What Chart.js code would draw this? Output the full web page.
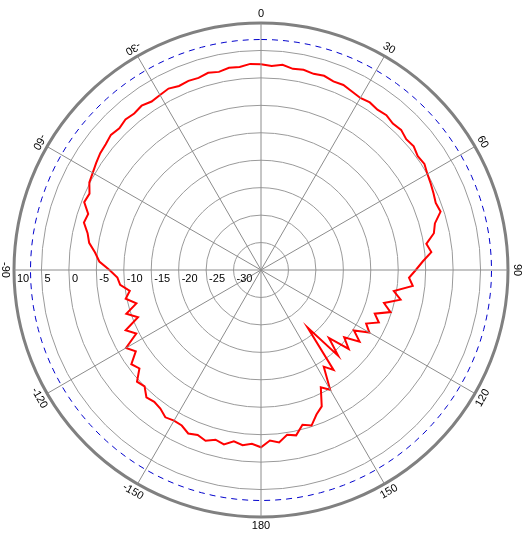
<!DOCTYPE html>
<html>
<head>
<meta charset="utf-8">
<script src="https://cdn.jsdelivr.net/npm/chart.js@4"></script>
<style>
  html, body { margin: 0; padding: 0; background: #fff; }
  #wrap { width: 526px; height: 534px; }
</style>
</head>
<body>
<div id="wrap"><canvas id="c"></canvas></div>
<script>
// gain in dB, every 3 degrees, clockwise from 0 at top
const gain = [
  2.5, 2.2, 2.6, 2.1, 2.3, 2.0, 2.2, 1.8, 1.9, 1.5,
  1.2, 1.4, 1.1, 1.3, 0.9, 1.1, 0.6, 0.8, 0.3, 0.5,
  0.0, -0.3, -0.6, -0.9, -0.6, -2.2, -2.8, -4.5, -3.8, -5.5,
  -6.8, -8.0, -7.2, -10.5, -9.0, -11.8, -10.2, -12.8, -11.5, -13.5,
  -12.2, -14.8, -12.8, -15.5, -13.5, -17.5, -14.0, -21.5, -12.5, -14.0,
  -9.8, -11.0, -7.8, -6.8, -5.2, -5.8, -4.2, -4.6, -3.4, -3.9,
  -2.7, -3.3, -2.9, -3.4, -2.5, -3.0, -2.3, -2.8, -2.4, -3.2,
  -3.3, -3.0, -3.8, -4.1, -3.8, -5.0, -4.6, -6.5, -5.8, -7.8,
  -6.6, -9.5, -8.0, -11.0, -9.2, -11.5, -9.8, -10.8, -9.2, -8.8,
  -7.4, -5.5, -4.6, -3.3, -2.7, -1.6, -1.9, -0.5, -0.8, 0.1,
  0.4, 0.8, 1.2, 1.4, 1.8, 1.5, 1.9, 1.7, 2.0, 1.6,
  1.8, 2.1, 1.7, 1.9, 1.8, 2.2, 1.9, 2.3, 2.2, 2.6
];
const angles = gain.map((_, i) => i * 3);
const refLevel = 7;
const angleTicks = [0, 30, 60, 90, 120, 150, 180, -150, -120, -90, -60, -30];
const radialTicks = [10, 5, 0, -5, -10, -15, -20, -25, -30];

const decor = {
  id: 'decor',
  afterDraw(chart) {
    const s = chart.scales.r, ctx = chart.ctx;
    const outer = s.getDistanceFromCenterForValue(10);
    ctx.save();
    // spokes every 30 degrees
    ctx.strokeStyle = '#8c8c8c'; ctx.lineWidth = 1;
    for (let k = 0; k < 12; k++) {
      const p = s.getPointPosition(k * 10, outer);
      ctx.beginPath(); ctx.moveTo(s.xCenter, s.yCenter); ctx.lineTo(p.x, p.y); ctx.stroke();
    }
    ctx.fillStyle = '#000';
    ctx.font = '11px "Liberation Sans", Arial, sans-serif';
    // radial labels along the left axis
    ctx.textAlign = 'left'; ctx.textBaseline = 'top';
    for (const v of radialTicks) {
      const d = s.getDistanceFromCenterForValue(v);
      ctx.fillText(String(v), s.xCenter - d + 3, s.yCenter + 3);
    }
    // angle labels outside the rim
    ctx.textAlign = 'center'; ctx.textBaseline = 'middle';
    for (const a of angleTicks) {
      const idx = ((a + 360) % 360) / 3;
      const p = s.getPointPosition(idx, outer + 9);
      let rot = a;
      if (a > 90) rot = a - 180;
      else if (a < 0) rot = a + 180;
      ctx.save();
      ctx.translate(p.x, p.y);
      ctx.rotate(rot * Math.PI / 180);
      ctx.fillText(String(a), 0, 0);
      ctx.restore();
    }
    ctx.restore();
  }
};

new Chart(document.getElementById('c'), {
  type: 'radar',
  data: {
    labels: angles,
    datasets: [
      { data: gain, borderColor: '#ff0000', borderWidth: 2, pointRadius: 0, fill: false, tension: 0 },
      { data: angles.map(() => refLevel), borderColor: '#0000cc', borderWidth: 1,
        borderDash: [6, 5], pointRadius: 0, fill: false }
    ]
  },
  plugins: [decor],
  options: {
    responsive: true, maintainAspectRatio: false, animation: false,
    layout: { padding: { left: 14, right: 18, top: 23, bottom: 17 } },
    plugins: { legend: { display: false }, tooltip: { enabled: false } },
    scales: {
      r: {
        min: -35, max: 10,
        ticks: { stepSize: 5, display: false },
        pointLabels: { display: false },
        angleLines: { display: false },
        grid: {
          circular: true,
          color: ctx => ctx.tick.value === 10 ? '#808080' : '#9a9a9a',
          lineWidth: ctx => ctx.tick.value === 10 ? 3 : 1
        }
      }
    }
  }
});
</script>
</body>
</html>
